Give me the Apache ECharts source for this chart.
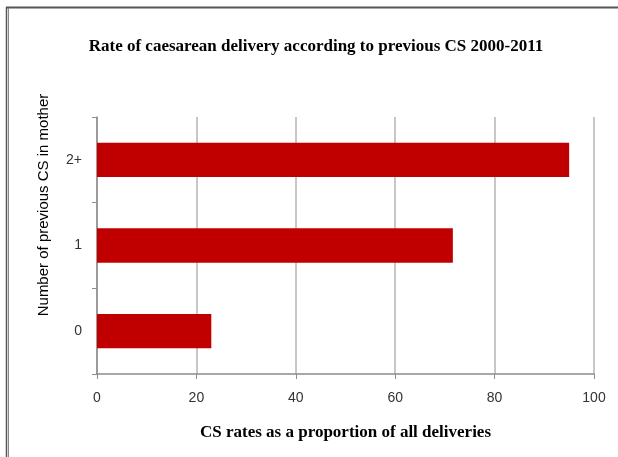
<!DOCTYPE html>
<html><head><meta charset="utf-8">
<script src="https://cdn.jsdelivr.net/npm/echarts@6/dist/echarts.min.js"></script>
<style>html,body{margin:0;padding:0;background:#fff}#c{width:618px;height:457px}</style>
</head><body><div id="c"></div>
<script>
const categories = ['0', '1', '2+'];
const csRates = [23, 71.6, 95];
const xTicks = [0, 20, 40, 60, 80, 100];
const titleText = 'Rate of caesarean delivery according to previous CS 2000-2011';
const xName = 'CS rates as a proportion of all deliveries';
const yName = 'Number of previous CS in mother';

const chart = echarts.init(document.getElementById('c'), null, {renderer: 'canvas'});
chart.setOption({
  animation: false,
  backgroundColor: '#fff',
  title: {
    text: titleText,
    left: 311, top: 33, textAlign: 'center',
    textStyle: {fontFamily: 'Liberation Serif', fontWeight: 'bold', fontSize: 17, color: '#000'}
  },
  graphic: [
    {type: 'line', shape: {x1: 6, y1: 7.5, x2: 618, y2: 7.5}, style: {stroke: '#555', lineWidth: 2}},
    {type: 'line', shape: {x1: 6.5, y1: 7, x2: 6.5, y2: 457}, style: {stroke: '#555', lineWidth: 1.5}},
    {type: 'line', shape: {x1: 8.5, y1: 8, x2: 8.5, y2: 457}, style: {stroke: '#888', lineWidth: 1}},
    {type: 'text', x: 44, y: 205, rotation: Math.PI / 2,
      style: {text: yName, fontFamily: 'Liberation Sans', fontSize: 15, fill: '#000',
        textAlign: 'center', textVerticalAlign: 'middle'}}
  ],
  grid: {left: 97, right: 24, top: 117, bottom: 83, containLabel: false},
  xAxis: {
    type: 'value', min: xTicks[0], max: xTicks[xTicks.length - 1], interval: 20,
    name: xName,
    nameLocation: 'middle', nameGap: 50,
    nameTextStyle: {fontFamily: 'Liberation Serif', fontWeight: 'bold', fontSize: 17, color: '#000'},
    axisLine: {show: true, lineStyle: {color: '#8c8c8c', width: 1.5}},
    axisTick: {show: true, length: 5, lineStyle: {color: '#8c8c8c'}},
    axisLabel: {margin: 17, fontFamily: 'Liberation Sans', fontSize: 14, color: '#333'},
    splitLine: {show: true, lineStyle: {color: '#b4b4b4', width: 1.5}}
  },
  yAxis: {
    type: 'category', data: categories,
    axisLine: {show: true, lineStyle: {color: '#8c8c8c', width: 1.5}},
    axisTick: {show: true, length: 5, lineStyle: {color: '#8c8c8c'}},
    axisLabel: {margin: 15, fontFamily: 'Liberation Sans', fontSize: 14, color: '#333'},
    splitLine: {show: false}
  },
  series: [{
    type: 'bar', data: csRates, barCategoryGap: '60%',
    itemStyle: {color: '#C00000'}
  }]
});
</script></body></html>
